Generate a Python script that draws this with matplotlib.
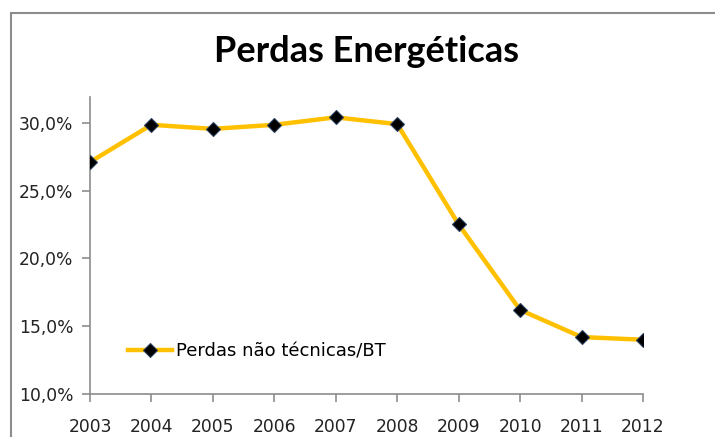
import matplotlib
matplotlib.use('Agg')
import matplotlib.pyplot as plt
from matplotlib.patches import Rectangle
from matplotlib.ticker import FuncFormatter

anos = [2003, 2004, 2005, 2006, 2007, 2008, 2009, 2010, 2011, 2012]
perdas = [27.1, 29.85, 29.55, 29.85, 30.4, 29.9, 22.5, 16.2, 14.2, 14.0]
serie_nome = 'Perdas não técnicas/BT'
titulo = 'Perdas Energéticas'

plt.rcParams['font.family'] = ['DejaVu Sans']

fig = plt.figure(figsize=(7.15, 4.37), dpi=100)
ax = fig.add_axes([90/715, 1-394/437, (643-90)/715, (394-97)/437])

# moldura do gráfico (cortada na direita e em baixo, como no original)
fig.patches.append(Rectangle((11/715, -0.1), 1.0, 1 - 13/437 + 0.1,
                             transform=fig.transFigure, fill=False,
                             edgecolor='#8c8c8c', linewidth=1.5))

ax.plot(anos, perdas, color='#FFC000', linewidth=3.2, marker='D',
        markersize=7.5, markerfacecolor='black', markeredgecolor='#2b3f5c',
        markeredgewidth=0.8, label=serie_nome, zorder=3)

ax.set_xlim(anos[0], anos[-1])
ax.set_ylim(10, 31.9)
ax.set_xticks(anos)
ax.set_yticks([10, 15, 20, 25, 30])
ax.yaxis.set_major_formatter(FuncFormatter(lambda v, p: f'{v:.1f}%'.replace('.', ',')))

for s in ['top', 'right']:
    ax.spines[s].set_visible(False)
for s in ['left', 'bottom']:
    ax.spines[s].set_color('#8c8c8c')
    ax.spines[s].set_linewidth(1.2)
ax.tick_params(axis='both', colors='#8c8c8c', length=6, width=1.2,
               labelcolor='#222222', labelsize=12.3)
ax.tick_params(axis='x', pad=11)
ax.tick_params(axis='y', pad=6)

fig.text(366/715, 1-52/437, titulo, ha='center', va='center',
         fontsize=26, fontweight='bold', family=['Lato', 'DejaVu Sans'], color='black')

ax.legend(loc='lower left', bbox_to_anchor=(0.04, 0.058), frameon=False,
          fontsize=13, handlelength=2.4, handletextpad=0.25)

fig.savefig('out.png', dpi=100)
